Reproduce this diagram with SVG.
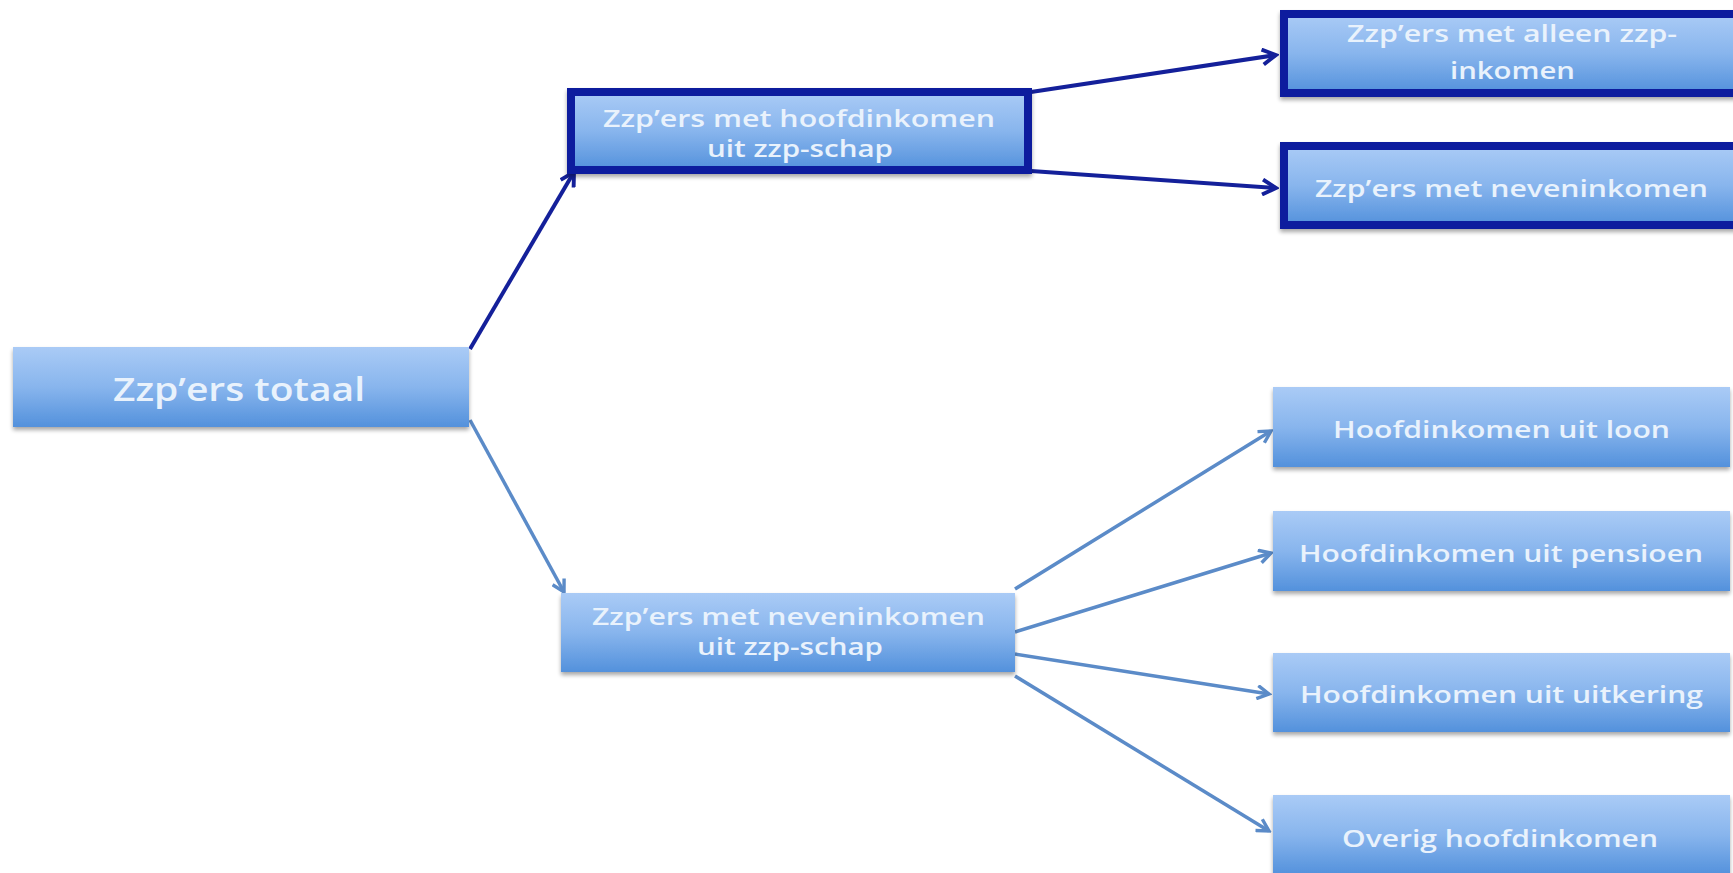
<svg xmlns="http://www.w3.org/2000/svg" width="1733" height="873" viewBox="0 0 1733 873">
<defs>
<linearGradient id="g" x1="0" y1="0" x2="0" y2="1">
<stop offset="0" stop-color="#aacbf6"/>
<stop offset="0.5" stop-color="#88b5ed"/>
<stop offset="1" stop-color="#5391dc"/>
</linearGradient>
<filter id="sh" x="-5%" y="-10%" width="110%" height="130%">
<feGaussianBlur in="SourceAlpha" stdDeviation="2"/>
<feOffset dx="0" dy="3" result="b"/>
<feComponentTransfer><feFuncA type="linear" slope="0.35"/></feComponentTransfer>
<feMerge><feMergeNode/><feMergeNode in="SourceGraphic"/></feMerge>
</filter>
<marker id="ad" viewBox="0 0 12 12" refX="10" refY="6" markerWidth="4.5" markerHeight="4.5" orient="auto" markerUnits="strokeWidth">
<path d="M1,1 L10,6 L1,11" fill="none" stroke="#14209a" stroke-width="2.6" stroke-linejoin="miter"/>
</marker>
<marker id="al" viewBox="0 0 12 12" refX="10" refY="6" markerWidth="4.5" markerHeight="4.5" orient="auto" markerUnits="strokeWidth">
<path d="M1,1 L10,6 L1,11" fill="none" stroke="#5b8bc8" stroke-width="2.6" stroke-linejoin="miter"/>
</marker>
</defs>
<style>
.box{fill:url(#g);filter:url(#sh)}
.dark{stroke:#0b1f9e;stroke-width:8}
.lbl{font-family:"Open Sans","Liberation Sans",sans-serif;font-weight:600;fill:#e9f2fc;text-anchor:start}
.cd{stroke:#14209a;stroke-width:4;fill:none;marker-end:url(#ad)}
.cl{stroke:#5b8bc8;stroke-width:3.5;fill:none;marker-end:url(#al)}
</style>
<rect width="1733" height="873" fill="#ffffff"/>
<g id="connectors">
<line class="cd" x1="470" y1="349" x2="574" y2="172"/>
<line class="cl" x1="470" y1="420" x2="564" y2="592"/>
<line class="cd" x1="1031" y1="92" x2="1276" y2="55"/>
<line class="cd" x1="1031" y1="171" x2="1276" y2="188"/>
<line class="cl" x1="1015" y1="589" x2="1271" y2="431"/>
<line class="cl" x1="1015" y1="632" x2="1271" y2="553"/>
<line class="cl" x1="1015" y1="654" x2="1269" y2="694"/>
<line class="cl" x1="1015" y1="676" x2="1269" y2="831"/>
</g>
<g id="n-totaal">
<rect class="box" x="13" y="347" width="456" height="80"/>
<text class="lbl" x="113" y="401" font-size="33" textLength="252" lengthAdjust="spacingAndGlyphs">Zzp’ers totaal</text>
</g>
<g id="n-hoofd">
<rect class="box dark" x="571" y="92" width="457" height="78"/>
<text class="lbl" x="603" y="127" font-size="23" textLength="392" lengthAdjust="spacingAndGlyphs">Zzp’ers met hoofdinkomen</text>
<text class="lbl" x="707" y="157" font-size="23" textLength="186" lengthAdjust="spacingAndGlyphs">uit zzp-schap</text>
</g>
<g id="n-neven">
<rect class="box" x="561" y="593" width="454" height="79"/>
<text class="lbl" x="592" y="625" font-size="23" textLength="393" lengthAdjust="spacingAndGlyphs">Zzp’ers met neveninkomen</text>
<text class="lbl" x="697" y="655" font-size="23" textLength="186" lengthAdjust="spacingAndGlyphs">uit zzp-schap</text>
</g>
<g id="n-alleen">
<rect class="box dark" x="1284" y="14" width="460" height="79"/>
<text class="lbl" x="1347" y="42" font-size="23" textLength="330" lengthAdjust="spacingAndGlyphs">Zzp’ers met alleen zzp-</text>
<text class="lbl" x="1450" y="79" font-size="23" textLength="125" lengthAdjust="spacingAndGlyphs">inkomen</text>
</g>
<g id="n-nevenink">
<rect class="box dark" x="1284" y="146" width="460" height="79"/>
<text class="lbl" x="1315" y="197" font-size="24" textLength="393" lengthAdjust="spacingAndGlyphs">Zzp’ers met neveninkomen</text>
</g>
<g id="n-loon">
<rect class="box" x="1273" y="387" width="457" height="80"/>
<text class="lbl" x="1333" y="438" font-size="24" textLength="337" lengthAdjust="spacingAndGlyphs">Hoofdinkomen uit loon</text>
</g>
<g id="n-pensioen">
<rect class="box" x="1273" y="511" width="457" height="80"/>
<text class="lbl" x="1299" y="562" font-size="24" textLength="404" lengthAdjust="spacingAndGlyphs">Hoofdinkomen uit pensioen</text>
</g>
<g id="n-uitkering">
<rect class="box" x="1273" y="653" width="457" height="79"/>
<text class="lbl" x="1300" y="703" font-size="24" textLength="403" lengthAdjust="spacingAndGlyphs">Hoofdinkomen uit uitkering</text>
</g>
<g id="n-overig">
<rect class="box" x="1273" y="795" width="457" height="80"/>
<text class="lbl" x="1342" y="847" font-size="24" textLength="316" lengthAdjust="spacingAndGlyphs">Overig hoofdinkomen</text>
</g>
</svg>
